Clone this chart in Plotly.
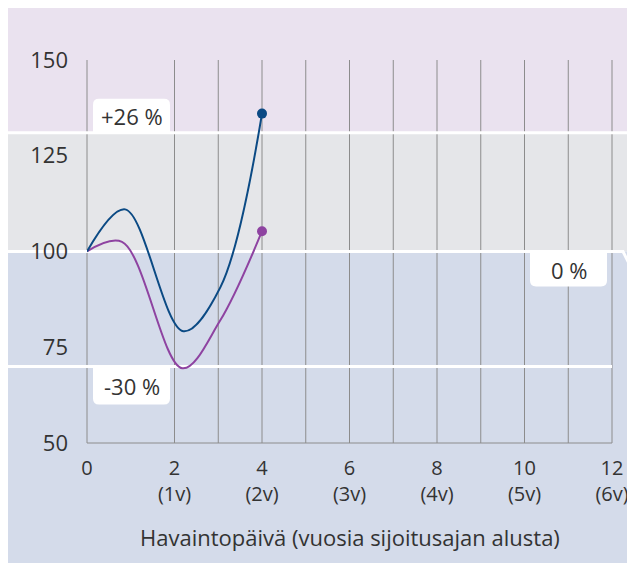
import plotly.graph_objects as go

# ---- data ----
x_blue = [0, 0.87, 2.2, 3.05, 4]
y_blue = [100, 111, 79.2, 90.7, 136]
x_purple = [0, 0.8, 2.18, 3.04, 4]
y_purple = [100, 102.5, 69.5, 81.9, 105.3]

x_tickvals = [0, 2, 4, 6, 8, 10, 12]
x_ticktext = ["0", "2<br>(1v)", "4<br>(2v)", "6<br>(3v)", "8<br>(4v)", "10<br>(5v)", "12<br>(6v)"]
y_tickvals = [50, 75, 100, 125, 150]
grid_x = [0, 2, 3, 4, 5, 6, 7, 8, 9, 10, 11, 12]

level_upper = 131   # +26 % threshold line
level_base = 100    # 0 % line
level_lower = 70    # -30 % threshold line
label_upper = "+26 %"
label_base = "0 %"
label_lower = "-30 %"
x_title = "Havaintopäivä (vuosia sijoitusajan alusta)"

# ---- styling / geometry (screen pixels; page body has an 8px margin) ----
OFF = 8
W, H = 635 - OFF, 564 - OFF
ML, MT = 87 - OFF, 60 - OFF
PW, PH = 525, 383
MR = W - ML - PW
MB = H - MT - PH
XR = [0, 12]
YR = [50, 150]

FONT = "Open Sans"
FS = 22
TXT = "#333333"
BLUE = "#0B4A84"
PURPLE = "#8E43A1"
C_TOP = "#EAE2EF"
C_MID = "#E5E6E9"
C_LOW = "#D4DBEA"
GRID = "#8C8C8C"


def px_x(sx):
    return (sx - OFF - ML) / PW


def px_y(sy):
    return (MT + PH - (sy - OFF)) / PH


def vx(v):
    return (v - XR[0]) / (XR[1] - XR[0])


def vy(v):
    return (v - YR[0]) / (YR[1] - YR[0])


def val_to_sy(v):
    return OFF + MT + PH * (1 - vy(v))


def rounded_box(x0, y0, x1, y1, r, round_top=True, round_bottom=True):
    # screen px -> paper path; y0 top, y1 bottom
    def P(x, y):
        return f"{px_x(x):.5f},{px_y(y):.5f}"
    rt = r if round_top else 0
    rb = r if round_bottom else 0
    p = f"M {P(x0 + rt, y0)} L {P(x1 - rt, y0)} "
    p += f"Q {P(x1, y0)} {P(x1, y0 + rt)} " if rt else ""
    p += f"L {P(x1, y1 - rb)} "
    p += f"Q {P(x1, y1)} {P(x1 - rb, y1)} " if rb else ""
    p += f"L {P(x0 + rb, y1)} "
    p += f"Q {P(x0, y1)} {P(x0, y1 - rb)} " if rb else ""
    p += f"L {P(x0, y0 + rt)} "
    p += f"Q {P(x0, y0)} {P(x0 + rt, y0)} " if rt else ""
    p += "Z"
    return dict(type="path", xref="paper", yref="paper", path=p, fillcolor="white",
                line_width=0, layer="below")


left_edge = px_x(6)
right_edge = px_x(645)
top_edge = px_y(4)
bottom_edge = px_y(563)

shapes = []
# background bands
shapes.append(dict(type="rect", xref="paper", yref="paper", x0=left_edge, x1=right_edge,
                   y0=vy(level_upper), y1=top_edge, fillcolor=C_TOP, line_width=0, layer="below"))
shapes.append(dict(type="rect", xref="paper", yref="paper", x0=left_edge, x1=right_edge,
                   y0=vy(level_base), y1=vy(level_upper), fillcolor=C_MID, line_width=0, layer="below"))
shapes.append(dict(type="rect", xref="paper", yref="paper", x0=left_edge, x1=right_edge,
                   y0=bottom_edge, y1=vy(level_base), fillcolor=C_LOW, line_width=0, layer="below"))
# vertical grid lines
for gx in grid_x:
    shapes.append(dict(type="line", xref="paper", yref="paper", x0=vx(gx), x1=vx(gx),
                       y0=0, y1=1, line=dict(color=GRID, width=1), layer="below"))
# bottom axis line
shapes.append(dict(type="line", xref="paper", yref="paper", x0=0, x1=1, y0=0, y1=0,
                   line=dict(color=GRID, width=1), layer="below"))
# white threshold lines
shapes.append(dict(type="line", xref="paper", yref="paper", x0=left_edge, x1=right_edge,
                   y0=vy(level_upper), y1=vy(level_upper), line=dict(color="white", width=3), layer="below"))
y_base_s = val_to_sy(level_base)
shapes.append(dict(type="path", xref="paper", yref="paper",
                   path=(f"M {left_edge},{vy(level_base)} L {px_x(623)},{vy(level_base)} "
                         f"L {px_x(623 + 14)},{px_y(y_base_s + 28)}"),
                   line=dict(color="white", width=3), layer="below"))
shapes.append(dict(type="line", xref="paper", yref="paper", x0=left_edge, x1=1,
                   y0=vy(level_lower), y1=vy(level_lower), line=dict(color="white", width=3), layer="below"))

# label boxes (screen px)
y_up_s = val_to_sy(level_upper)
y_lo_s = val_to_sy(level_lower)
shapes.append(rounded_box(93, y_up_s - 34, 170, y_up_s, 6, True, False))
shapes.append(rounded_box(93, y_lo_s, 170, y_lo_s + 38, 6, False, True))
shapes.append(rounded_box(530, y_base_s, 607, y_base_s + 35, 6, False, True))

fig = go.Figure()
fig.add_trace(go.Scatter(x=x_purple, y=y_purple, mode="lines",
                         line=dict(color=PURPLE, width=2, shape="spline", smoothing=1),
                         hoverinfo="skip", showlegend=False))
fig.add_trace(go.Scatter(x=x_blue, y=y_blue, mode="lines",
                         line=dict(color=BLUE, width=2, shape="spline", smoothing=1),
                         hoverinfo="skip", showlegend=False))
fig.add_trace(go.Scatter(x=[x_purple[-1]], y=[y_purple[-1]], mode="markers",
                         marker=dict(color=PURPLE, size=10), hoverinfo="skip", showlegend=False))
fig.add_trace(go.Scatter(x=[x_blue[-1]], y=[y_blue[-1]], mode="markers",
                         marker=dict(color=BLUE, size=10), hoverinfo="skip", showlegend=False))

tf = dict(family=FONT, size=FS, color=TXT)
annotations = [
    dict(x=px_x(131.5), y=px_y(y_up_s - 17), xref="paper", yref="paper", xanchor="center",
         yanchor="middle", text=label_upper, showarrow=False, font=tf),
    dict(x=px_x(131.5), y=px_y(y_lo_s + 20), xref="paper", yref="paper", xanchor="center",
         yanchor="middle", text=label_lower, showarrow=False, font=tf),
    dict(x=px_x(568.5), y=px_y(y_base_s + 18), xref="paper", yref="paper", xanchor="center",
         yanchor="middle", text=label_base, showarrow=False, font=tf),
    dict(x=px_x(350), y=px_y(537), xref="paper", yref="paper", xanchor="center", yanchor="middle",
         text=x_title, showarrow=False, font=tf),
]

fig.update_layout(
    width=W, height=H,
    margin=dict(l=ML, r=MR, t=MT, b=MB, autoexpand=False),
    paper_bgcolor="white", plot_bgcolor="rgba(0,0,0,0)",
    font=tf,
    shapes=shapes, annotations=annotations,
    xaxis=dict(range=XR, tickvals=x_tickvals, ticktext=x_ticktext, showgrid=False, zeroline=False,
               showline=False, ticks="", ticklabelstandoff=11, fixedrange=True,
               tickfont=dict(family=FONT, size=20, color=TXT)),
    yaxis=dict(range=YR, tickvals=y_tickvals, showgrid=False, zeroline=False, showline=False,
               ticks="", ticklabelstandoff=18, fixedrange=True),
)

fig.write_html("out.html")
